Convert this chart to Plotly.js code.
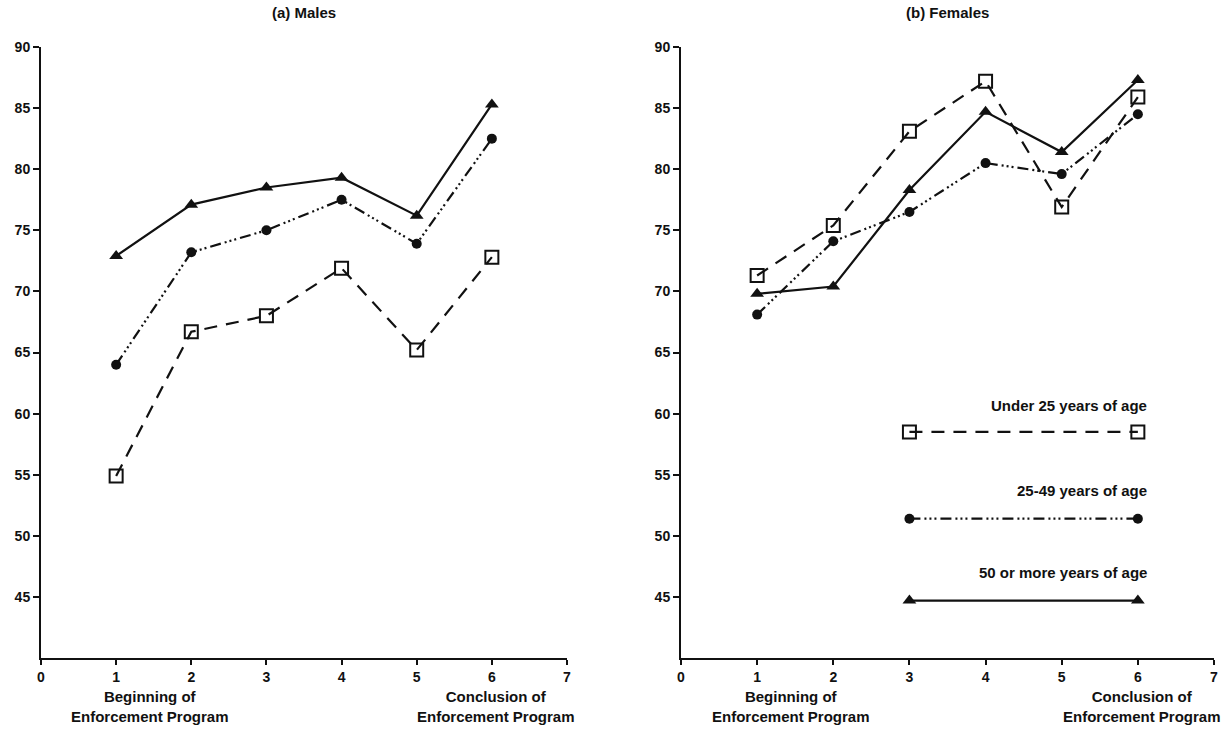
<!DOCTYPE html>
<html>
<head>
<meta charset="utf-8">
<script src="https://cdn.plot.ly/plotly-3.0.1.min.js"></script>
<style>html,body{margin:0;padding:0;background:#fff;}#chart{width:1225px;height:751px;}</style>
</head>
<body>
<div id="chart"></div>
<script>
// ---- data ----
const periods = [1, 2, 3, 4, 5, 6];
const seriesNames = ["Under 25 years of age", "25-49 years of age", "50 or more years of age"];

const malesUnder25 = [54.9, 66.7, 68.0, 71.9, 65.2, 72.8];
const males25to49  = [64.0, 73.2, 75.0, 77.5, 73.9, 82.5];
const males50plus  = [72.9, 77.1, 78.5, 79.3, 76.2, 85.3];

const femalesUnder25 = [71.3, 75.4, 83.1, 87.2, 76.9, 85.9];
const females25to49  = [68.1, 74.1, 76.5, 80.5, 79.6, 84.5];
const females50plus  = [69.8, 70.4, 78.3, 84.7, 81.4, 87.3];

const xTicks = [0, 1, 2, 3, 4, 5, 6, 7];
const yTicks = [45, 50, 55, 60, 65, 70, 75, 80, 85, 90];
const panelTitles = ["(a) Males", "(b) Females"];

// ---- styles ----
const FONT = "Liberation Sans";
const styles = [
  {dash: "13px,9px", marker: {symbol: "square-open", size: 13, color: "#111", line: {width: 2, color: "#111"}}},
  {dash: "11px,4px,2px,3px,2px,3px,2px,4px", marker: {symbol: "circle", size: 10, color: "#111"}},
  {dash: "solid", marker: {symbol: "triangle-up", size: 12, color: "#111"}}
];

function tr(y, i, xa, ya) {
  return {
    x: periods, y: y, xaxis: xa, yaxis: ya, type: "scatter", mode: "lines+markers",
    name: seriesNames[i], showlegend: false, cliponaxis: false,
    line: {color: "#111", width: 2.2, dash: styles[i].dash},
    marker: styles[i].marker
  };
}

const traces = [
  tr(malesUnder25, 0, "x", "y"), tr(males25to49, 1, "x", "y"), tr(males50plus, 2, "x", "y"),
  tr(femalesUnder25, 0, "x2", "y2"), tr(females25to49, 1, "x2", "y2"), tr(females50plus, 2, "x2", "y2")
];

// legend samples drawn inside panel (b)
const legendRows = [{ty: 60.7, ly: 58.5}, {ty: 53.7, ly: 51.4}, {ty: 47.0, ly: 44.7}];
const legendX0 = 3, legendX1 = 6;
legendRows.forEach((r, i) => {
  traces.push({
    x: [legendX0, legendX1], y: [r.ly, r.ly], xaxis: "x2", yaxis: "y2",
    type: "scatter", mode: "lines+markers", showlegend: false, hoverinfo: "skip",
    line: {color: "#111", width: 2.2, dash: styles[i].dash},
    marker: styles[i].marker, cliponaxis: false
  });
});

const tickFont = {family: FONT, size: 14, color: "#111", weight: 700};
function xax(domain, anchor) {
  return {
    domain: domain, anchor: anchor, range: [0, 7], tickvals: xTicks, ticktext: xTicks.map(v => "<b>" + v + "</b>"),
    showline: true, linecolor: "#111", linewidth: 2, ticks: "outside", ticklen: 5, tickwidth: 2,
    tickcolor: "#111", showgrid: false, zeroline: false, fixedrange: true, tickfont: tickFont
  };
}
function yax(anchor) {
  return {
    domain: [0, 1], anchor: anchor, range: [40, 90], tickvals: yTicks, ticktext: yTicks.map(v => "<b>" + v + "</b>"),
    showline: true, linecolor: "#111", linewidth: 2, ticks: "outside", ticklen: 6, tickwidth: 2,
    tickcolor: "#111", showgrid: false, zeroline: false, fixedrange: true, tickfont: tickFont
  };
}

const annFont = {family: FONT, size: 15, color: "#111"};
const annotations = [
  {text: "<b>" + panelTitles[0] + "</b>", xref: "x", yref: "paper", x: 3.5, y: 1.04, xanchor: "center", yanchor: "bottom", showarrow: false, font: annFont},
  {text: "<b>" + panelTitles[1] + "</b>", xref: "x2", yref: "paper", x: 3.5, y: 1.04, xanchor: "center", yanchor: "bottom", showarrow: false, font: annFont},
  {text: "<b>Beginning of<br>Enforcement Program</b>", xref: "x", yref: "paper", x: 1.45, y: -0.046, xanchor: "center", yanchor: "top", showarrow: false, font: annFont},
  {text: "<b>Conclusion of<br>Enforcement Program</b>", xref: "x", yref: "paper", x: 6.05, y: -0.046, xanchor: "center", yanchor: "top", showarrow: false, font: annFont},
  {text: "<b>Beginning of<br>Enforcement Program</b>", xref: "x2", yref: "paper", x: 1.45, y: -0.046, xanchor: "center", yanchor: "top", showarrow: false, font: annFont},
  {text: "<b>Conclusion of<br>Enforcement Program</b>", xref: "x2", yref: "paper", x: 6.05, y: -0.046, xanchor: "center", yanchor: "top", showarrow: false, font: annFont}
];
legendRows.forEach((r, i) => {
  annotations.push({text: "<b>" + seriesNames[i] + "</b>", xref: "x2", yref: "y2", x: 6.15, y: r.ty,
    xanchor: "right", yanchor: "middle", showarrow: false, font: annFont});
});

const layout = {
  width: 1225, height: 751,
  margin: {l: 0, r: 0, t: 47, b: 93},
  paper_bgcolor: "#fff", plot_bgcolor: "rgba(0,0,0,0)",
  showlegend: false,
  xaxis: xax([41 / 1225, 567 / 1225], "y"),
  yaxis: yax("x"),
  xaxis2: xax([681 / 1225, 1214 / 1225], "y2"),
  yaxis2: yax("x2"),
  annotations: annotations
};

Plotly.newPlot("chart", traces, layout, {displayModeBar: false, staticPlot: true});
</script>
</body>
</html>
